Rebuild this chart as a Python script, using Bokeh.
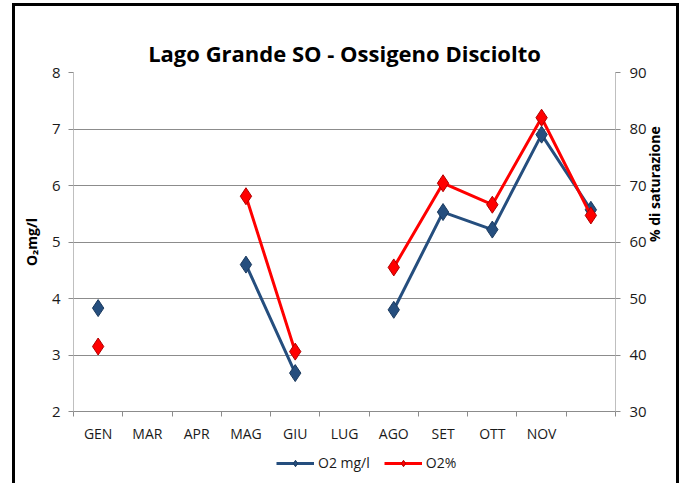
import math
from bokeh.plotting import figure
from bokeh.layouts import column
from bokeh.models import (Range1d, LinearAxis, FixedTicker, Legend, LegendItem,
                          ColumnDataSource)
from bokeh.embed import file_html
from bokeh.resources import INLINE

months = ["GEN", "MAR", "APR", "MAG", "GIU", "LUG", "AGO", "SET", "OTT", "NOV", ""]
o2_mgl = [3.83, None, None, 4.60, 2.68, None, 3.80, 5.53, 5.22, 6.90, 5.57]
o2_pct = [41.5, None, None, 68.1, 40.6, None, 55.5, 70.4, 66.6, 82.0, 64.7]
series_names = ["O2 mg/l", "O2%"]

x = [i + 0.5 for i in range(len(months))]
nan = float("nan")
y1 = [nan if v is None else v for v in o2_mgl]
y2 = [nan if v is None else v for v in o2_pct]

FONT = "Open Sans"
BLUE = "#254E7E"
RED = "#FF0000"
GRID = "#8C8C8C"
W = 661

p = figure(width=W, height=442, output_backend="svg", toolbar_location=None,
           x_range=Range1d(0, len(months)), y_range=Range1d(2, 8),
           min_border_left=58, min_border_right=58, min_border_top=66, min_border_bottom=37,
           title="Lago Grande SO - Ossigeno Disciolto")
p.extra_y_ranges = {"pct": Range1d(30, 90)}

p.title.align = "center"
p.title.text_font = FONT
p.title.text_font_size = "22px"
p.title.text_font_style = "bold"
p.title.text_color = "black"
p.title.offset = 0
p.title.standoff = 10

p.outline_line_color = None
p.background_fill_color = "white"
p.border_fill_color = "white"

# grid
p.xgrid.grid_line_color = None
p.ygrid.grid_line_color = GRID
p.ygrid.grid_line_width = 1
p.ygrid.ticker = FixedTicker(ticks=[2, 3, 4, 5, 6, 7, 8])

# x axis
xa = p.xaxis[0]
xa.ticker = FixedTicker(ticks=x, minor_ticks=list(range(len(months) + 1)))
xa.major_label_overrides = {v: m for v, m in zip(x, months)}
xa.major_tick_out = 0
xa.major_tick_in = 0
xa.minor_tick_out = 5
xa.minor_tick_in = 0
xa.axis_line_color = GRID
xa.minor_tick_line_color = GRID
xa.major_label_text_font = FONT
xa.major_label_text_font_size = "14px"
xa.major_label_text_color = "#1a1a1a"
xa.major_label_standoff = 7

# left axis
ya = p.yaxis[0]
ya.ticker = FixedTicker(ticks=[2, 3, 4, 5, 6, 7, 8])
ya.axis_line_color = "#BFBFBF"
ya.major_tick_line_color = GRID
ya.major_tick_out = 5
ya.major_tick_in = 0
ya.minor_tick_line_color = None
ya.major_label_text_font = FONT
ya.major_label_text_font_size = "15px"
ya.major_label_text_color = "#1a1a1a"
ya.major_label_standoff = 8
ya.axis_label = "O₂mg/l"
ya.axis_label_text_font = FONT
ya.axis_label_text_font_size = "14px"
ya.axis_label_text_font_style = "bold"
ya.axis_label_text_color = "black"
ya.axis_label_standoff = 8

# right axis
ra = LinearAxis(y_range_name="pct", ticker=FixedTicker(ticks=[30, 40, 50, 60, 70, 80, 90]))
ra.axis_line_color = "#BFBFBF"
ra.major_tick_line_color = GRID
ra.major_tick_out = 5
ra.major_tick_in = 0
ra.minor_tick_line_color = None
ra.major_label_text_font = FONT
ra.major_label_text_font_size = "15px"
ra.major_label_text_color = "#1a1a1a"
ra.major_label_standoff = 9
ra.axis_label = "% di saturazione"
ra.axis_label_text_font = FONT
ra.axis_label_text_font_size = "14px"
ra.axis_label_text_font_style = "bold"
ra.axis_label_text_color = "black"
ra.axis_label_standoff = 5
ra.axis_label_orientation = math.pi / 2
p.add_layout(ra, "right")

src = ColumnDataSource(dict(x=x, y1=y1, y2=y2))
p.line("x", "y1", source=src, line_color=BLUE, line_width=3)
p.scatter("x", "y1", source=src, marker="diamond", size=17,
          fill_color=BLUE, line_color="#1B3A5E", line_width=1)
p.line("x", "y2", source=src, y_range_name="pct", line_color=RED, line_width=3)
p.scatter("x", "y2", source=src, y_range_name="pct", marker="diamond", size=17,
          fill_color=RED, line_color="#B00000", line_width=1)

# legend strip below the chart
q = figure(width=W, height=35, output_backend="svg", toolbar_location=None,
           x_range=Range1d(0, 1), y_range=Range1d(0, 1),
           min_border_left=58, min_border_right=58, min_border_top=0, min_border_bottom=0,
           x_axis_location=None, y_axis_location=None)
q.outline_line_color = None
q.xgrid.grid_line_color = None
q.ygrid.grid_line_color = None
empty = ColumnDataSource(dict(x=[nan], y=[nan]))
r1 = q.line("x", "y", source=empty, line_color=BLUE, line_width=3)
r1m = q.scatter("x", "y", source=empty, marker="diamond", size=13,
                fill_color=BLUE, line_color="#1B3A5E")
r2 = q.line("x", "y", source=empty, line_color=RED, line_width=3)
r2m = q.scatter("x", "y", source=empty, marker="diamond", size=13,
                fill_color=RED, line_color="#B00000")
legend = Legend(items=[LegendItem(label=series_names[0], renderers=[r1, r1m]),
                       LegendItem(label=series_names[1], renderers=[r2, r2m])],
                orientation="horizontal", location=(203, 11),
                label_text_font=FONT, label_text_font_size="14px",
                label_text_color="#1a1a1a", border_line_color=None,
                background_fill_alpha=0, glyph_width=38, glyph_height=16,
                label_standoff=4, spacing=14, padding=0, margin=0)
q.add_layout(legend)

layout = column(p, q, spacing=0)
layout.styles = {"border-left": "3px solid black", "border-right": "3px solid black",
                 "border-top": "3px solid black", "margin-left": "12px", "margin-top": "3px"}
open("out.html", "w").write(file_html(layout, INLINE))
